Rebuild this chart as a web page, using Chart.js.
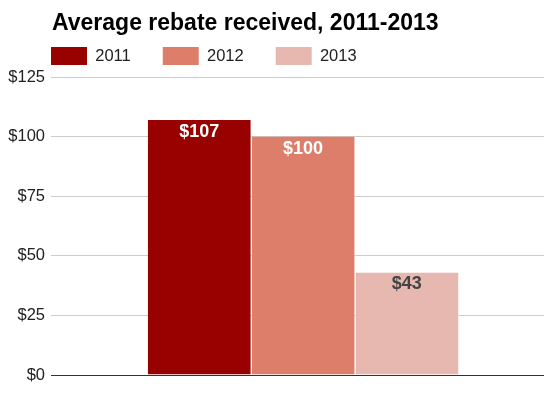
<!DOCTYPE html>
<html>
<head>
<meta charset="utf-8">
<script src="https://cdn.jsdelivr.net/npm/chart.js@4/dist/chart.umd.min.js"></script>
<style>
  html, body { margin: 0; padding: 0; background: #fff; }
  #wrap { width: 552px; height: 398px; position: relative; }
</style>
</head>
<body>
<div id="wrap"><canvas id="c" width="552" height="398"></canvas></div>
<script>
// ---- data ----
const titleText = 'Average rebate received, 2011-2013';
const categories = ['Average rebate'];
const seriesNames = ['2011', '2012', '2013'];
const seriesValues = [107, 100, 43];
const yMin = 0;
const yMax = 125;
const yStep = 25;

// ---- styles ----
const FONT = '"Liberation Sans", Arial, Helvetica, sans-serif';
const barColors = ['#990000', '#dd7e6b', '#e6b8af'];
const labelColors = ['#ffffff', '#ffffff', '#444444'];

const datasets = seriesNames.map((name, i) => ({
  label: name,
  data: [seriesValues[i]],
  backgroundColor: barColors[i],
  borderColor: '#ffffff',
  borderWidth: { top: 0, right: 1, bottom: 0, left: 0 },
  borderSkipped: false,
  barPercentage: 1.0,
  categoryPercentage: 0.6476
}));

const valueLabels = {
  id: 'valueLabels',
  afterDatasetsDraw(chart) {
    const ctx = chart.ctx;
    ctx.save();
    ctx.font = 'bold 18px ' + FONT;
    ctx.textAlign = 'center';
    ctx.textBaseline = 'middle';
    chart.data.datasets.forEach((ds, i) => {
      const meta = chart.getDatasetMeta(i);
      meta.data.forEach((bar, j) => {
        ctx.fillStyle = labelColors[i];
        ctx.fillText('$' + ds.data[j], bar.x - 0.5, bar.y + 12);
      });
    });
    ctx.restore();
  }
};

const blockShift = {
  id: 'blockShift',
  afterLayout(chart) {
    const t = chart.titleBlock;
    if (t) { t.left += 45; t.right += 45; }
    const l = chart.legend;
    if (l) { l.left += 12; l.right += 12; l.top -= 2; l.bottom -= 2; }
  }
};

new Chart(document.getElementById('c'), {
  type: 'bar',
  data: { labels: categories, datasets },
  options: {
    responsive: false,
    animation: false,
    devicePixelRatio: 1,
    layout: { padding: { left: 7, right: 8, top: 0, bottom: 23 } },
    plugins: {
      title: {
        display: true,
        text: titleText,
        align: 'start',
        color: '#000',
        font: { family: FONT, size: 23, weight: 'bold' },
        padding: { top: 10, bottom: -20.6 }
      },
      legend: {
        display: true,
        position: 'top',
        align: 'start',
        labels: {
          boxWidth: 36,
          boxHeight: 18,
          padding: 32,
          color: '#222',
          font: { family: FONT, size: 16.5 },
          generateLabels(chart) {
            const items = Chart.defaults.plugins.legend.labels.generateLabels(chart);
            items.forEach(it => { it.lineWidth = 0; });
            return items;
          }
        }
      },
      tooltip: { enabled: false }
    },
    scales: {
      x: {
        display: false
      },
      y: {
        min: yMin,
        max: yMax,
        afterFit(scale) { scale.width = 56; },
        ticks: {
          stepSize: yStep,
          padding: 6,
          color: '#222',
          font: { family: FONT, size: 16.5 },
          callback: v => '$' + v
        },
        grid: {
          drawTicks: true,
          tickLength: 12,
          lineWidth: 1,
          color: ctx => (ctx.tick && ctx.tick.value === 0) ? '#333333' : '#cccccc'
        },
        border: { display: false }
      }
    }
  },
  plugins: [valueLabels, blockShift]
});
</script>
</body>
</html>
